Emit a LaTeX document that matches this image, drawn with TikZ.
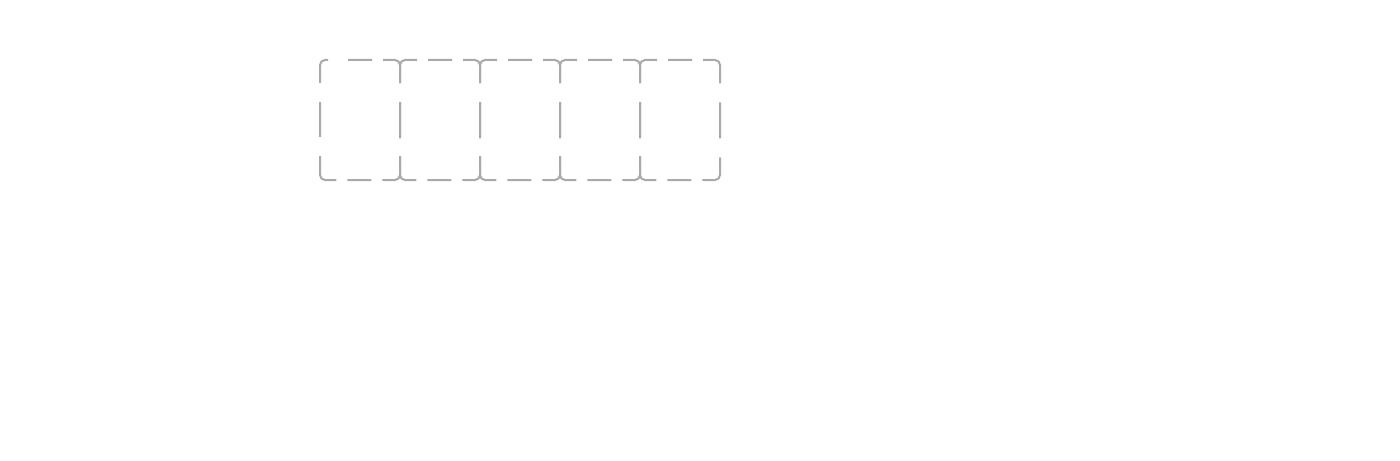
\documentclass[tikz,border=0pt]{standalone}
\usetikzlibrary{positioning}
\definecolor{cellgray}{HTML}{AAAAAA}

\begin{document}
\begin{tikzpicture}[x=0.5pt,y=-0.5pt]
	\tikzstyle{cell}=[rectangle, minimum width=40pt, minimum height=60pt, inner sep=0pt, outer sep=0pt]
	\tikzstyle{cell border}=[draw=cellgray, line width=1pt, rounded corners=2.5pt, dash phase=11.5pt,
		dash pattern=on 18pt off 9.5pt on 18.93pt off 5.5pt on 12pt off 5.5pt on 18.93pt off 9.5pt on 18pt off 9.5pt on 18.93pt off 5.5pt on 12pt off 5.5pt on 18.93pt off 9.5pt]
	\tikzstyle{first cell border}=[cell border,
		dash pattern=on 18pt off 9.5pt on 14.43pt off 10pt on 12pt off 5.5pt on 18.93pt off 9.5pt on 18pt off 9.5pt on 18.93pt off 5.5pt on 12pt off 5.5pt on 18.93pt off 9.5pt]

	\useasboundingbox (0,0) rectangle (1400,460);

	\node [cell] (c1) at (360,120) {};
	\node [cell] (c2) [right=0pt of c1] {};
	\node [cell] (c3) [right=0pt of c2] {};
	\node [cell] (c4) [right=0pt of c3] {};
	\node [cell] (c5) [right=0pt of c4] {};

	\draw [first cell border] (c1.west) |- (c1.north east) |- (c1.south west) -- cycle;
	\foreach \c in {c2,c3,c4,c5}
		\draw [cell border] (\c.west) |- (\c.north east) |- (\c.south west) -- cycle;
\end{tikzpicture}
\end{document}
